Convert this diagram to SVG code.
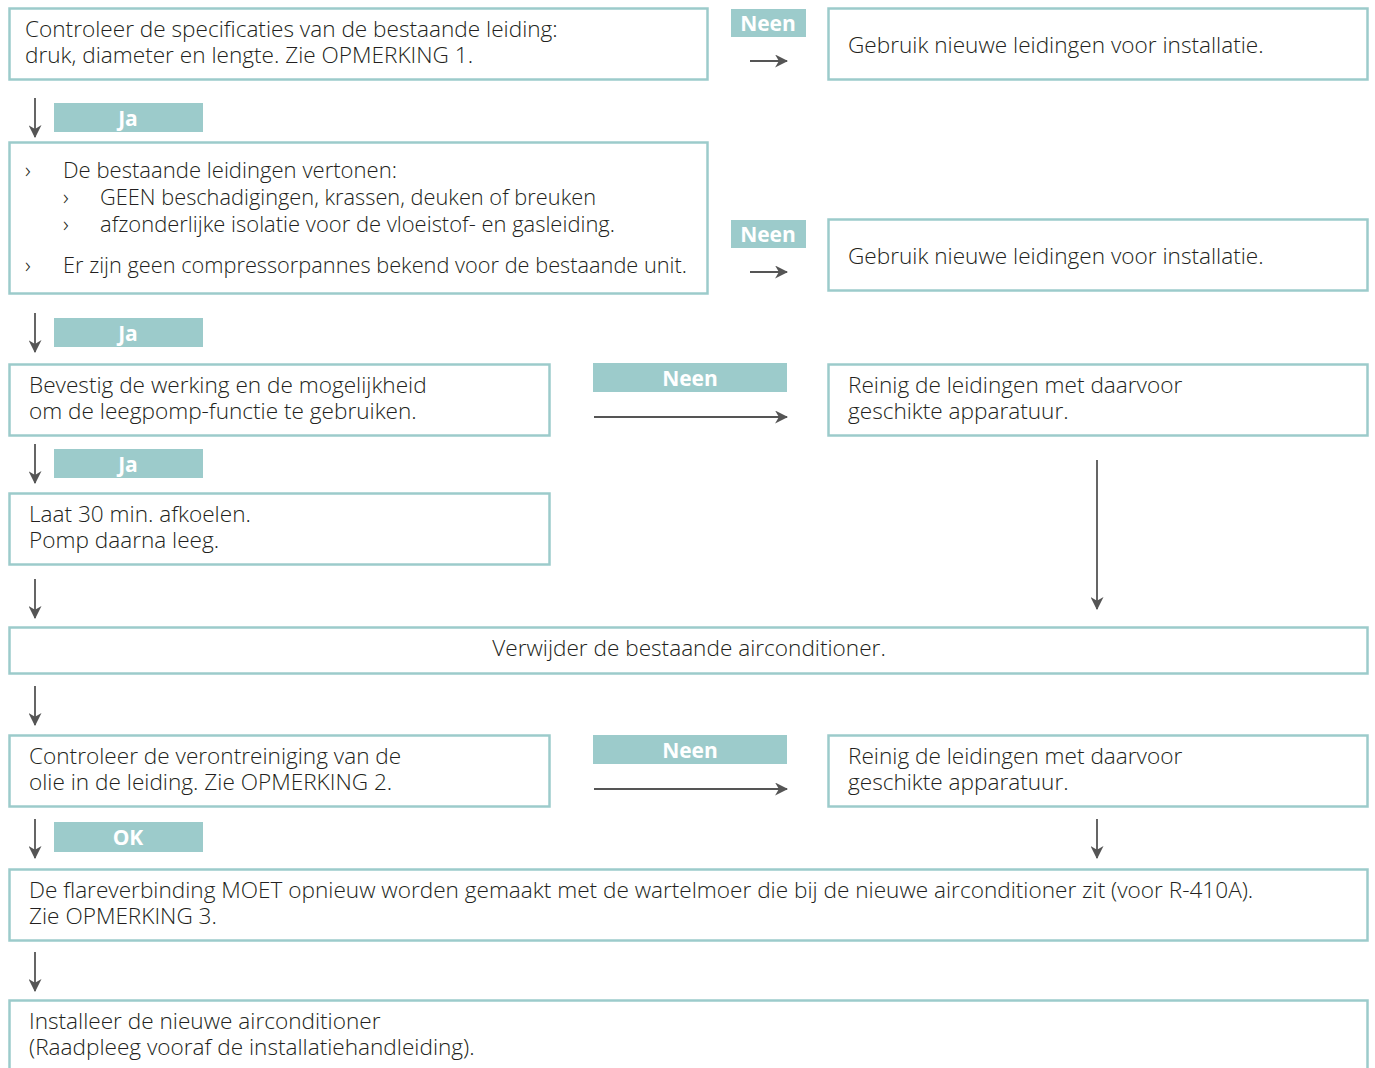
<svg xmlns="http://www.w3.org/2000/svg" width="1375" height="1068" viewBox="0 0 1375 1068">
<style>
.box{fill:#fff;stroke:#9ccbcb;stroke-width:2.5}
.lbl{fill:#9ccbcb}
.lt{font-family:"Open Sans","DejaVu Sans",sans-serif;font-weight:700;font-size:21px;fill:#fff;text-anchor:middle}
.t{font-family:"Open Sans","DejaVu Sans",sans-serif;font-weight:300;font-size:22.6px;fill:#231f20}
.c{stroke:#555;stroke-width:1.8;fill:none;marker-end:url(#ah)}
</style>
<defs>
<marker id="ah" viewBox="0 0 12 12" refX="11" refY="6" markerWidth="13" markerHeight="13" markerUnits="userSpaceOnUse" orient="auto">
<path d="M0,0 L12,6 L0,12 L3.5,6 z" fill="#555"/>
</marker>
</defs>
<rect width="1375" height="1068" fill="#fff"/>
<g id="connectors">
<path class="c" d="M750,61 H787"/>
<path class="c" d="M750,272 H787"/>
<path class="c" d="M594,417 H787"/>
<path class="c" d="M594,789 H787"/>
<path class="c" d="M35,98 V137"/>
<path class="c" d="M35,313 V352"/>
<path class="c" d="M35,444 V483"/>
<path class="c" d="M35,579 V618"/>
<path class="c" d="M35,686 V725"/>
<path class="c" d="M35,819 V858"/>
<path class="c" d="M35,952 V991"/>
<path class="c" d="M1097,460 V609"/>
<path class="c" d="M1097,819 V858"/>
</g>
<g id="labels">
<g id="l1"><rect class="lbl" x="731" y="9" width="75" height="28"/><text class="lt" x="768" y="31">Neen</text></g>
<g id="l2"><rect class="lbl" x="54" y="103" width="149" height="29"/><text class="lt" x="128" y="126">Ja</text></g>
<g id="l3"><rect class="lbl" x="731" y="220" width="75" height="28"/><text class="lt" x="768" y="242">Neen</text></g>
<g id="l4"><rect class="lbl" x="54" y="318" width="149" height="29"/><text class="lt" x="128" y="341">Ja</text></g>
<g id="l5"><rect class="lbl" x="593" y="363" width="194" height="29"/><text class="lt" x="690" y="386">Neen</text></g>
<g id="l6"><rect class="lbl" x="54" y="449" width="149" height="29"/><text class="lt" x="128" y="472">Ja</text></g>
<g id="l7"><rect class="lbl" x="593" y="735" width="194" height="29"/><text class="lt" x="690" y="758">Neen</text></g>
<g id="l8"><rect class="lbl" x="54" y="822" width="149" height="30"/><text class="lt" x="128" y="845">OK</text></g>
</g>
<g id="n1"><rect class="box" x="9.5" y="8.5" width="698" height="71"/>
<text class="t" x="25" y="37">Controleer de specificaties van de bestaande leiding:<tspan x="25" dy="26">druk, diameter en lengte. Zie OPMERKING 1.</tspan></text></g>
<g id="n2"><rect class="box" x="828.5" y="8.5" width="539" height="71"/>
<text class="t" x="848" y="53">Gebruik nieuwe leidingen voor installatie.</text></g>
<g id="n3"><rect class="box" x="9.5" y="142.5" width="698" height="151"/>
<text class="t" x="25" y="178">›<tspan x="63" textLength="334" lengthAdjust="spacingAndGlyphs">De bestaande leidingen vertonen:</tspan><tspan x="63" dy="27">›</tspan><tspan x="100" textLength="496" lengthAdjust="spacingAndGlyphs">GEEN beschadigingen, krassen, deuken of breuken</tspan><tspan x="63" dy="27">›</tspan><tspan x="100" textLength="515" lengthAdjust="spacingAndGlyphs">afzonderlijke isolatie voor de vloeistof- en gasleiding.</tspan><tspan x="25" dy="41">›</tspan><tspan x="63" textLength="624" lengthAdjust="spacingAndGlyphs">Er zijn geen compressorpannes bekend voor de bestaande unit.</tspan></text></g>
<g id="n4"><rect class="box" x="828.5" y="219.5" width="539" height="71"/>
<text class="t" x="848" y="264">Gebruik nieuwe leidingen voor installatie.</text></g>
<g id="n5"><rect class="box" x="9.5" y="364.5" width="540" height="71"/>
<text class="t" x="29" y="393">Bevestig de werking en de mogelijkheid<tspan x="29" dy="26">om de leegpomp-functie te gebruiken.</tspan></text></g>
<g id="n6"><rect class="box" x="828.5" y="364.5" width="539" height="71"/>
<text class="t" x="848" y="393">Reinig de leidingen met daarvoor<tspan x="848" dy="26">geschikte apparatuur.</tspan></text></g>
<g id="n7"><rect class="box" x="9.5" y="493.5" width="540" height="71"/>
<text class="t" x="29" y="522">Laat 30 min. afkoelen.<tspan x="29" dy="26">Pomp daarna leeg.</tspan></text></g>
<g id="n8"><rect class="box" x="9.5" y="627.5" width="1358" height="46"/>
<text class="t" x="689" y="656" text-anchor="middle">Verwijder de bestaande airconditioner.</text></g>
<g id="n9"><rect class="box" x="9.5" y="735.5" width="540" height="71"/>
<text class="t" x="29" y="764">Controleer de verontreiniging van de<tspan x="29" dy="26">olie in de leiding. Zie OPMERKING 2.</tspan></text></g>
<g id="n10"><rect class="box" x="828.5" y="735.5" width="539" height="71"/>
<text class="t" x="848" y="764">Reinig de leidingen met daarvoor<tspan x="848" dy="26">geschikte apparatuur.</tspan></text></g>
<g id="n11"><rect class="box" x="9.5" y="869.5" width="1358" height="71"/>
<text class="t" x="29" y="898">De flareverbinding MOET opnieuw worden gemaakt met de wartelmoer die bij de nieuwe airconditioner zit (voor R-410A).<tspan x="29" dy="26">Zie OPMERKING 3.</tspan></text></g>
<g id="n12"><rect class="box" x="9.5" y="1000.5" width="1358" height="80"/>
<text class="t" x="29" y="1029">Installeer de nieuwe airconditioner<tspan x="29" dy="26">(Raadpleeg vooraf de installatiehandleiding).</tspan></text></g>
</svg>
